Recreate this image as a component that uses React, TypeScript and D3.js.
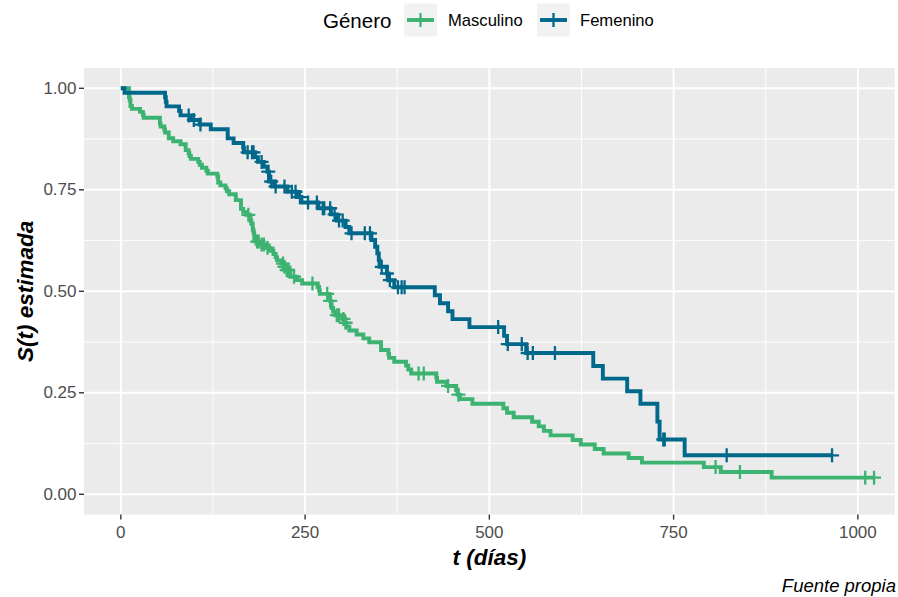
import React from "react";
import * as d3 from "d3";

// ---- Data ----
const maleTimes = [0, 11, 12, 13, 15, 26, 30, 31, 53, 54, 59, 60, 65, 71, 81, 88, 92, 93, 95, 105, 107, 110, 116, 118, 131, 132, 135, 142, 144, 147, 156, 163, 166, 170, 175, 176, 177, 179, 180, 181, 183, 189, 197, 202, 207, 210, 212, 218, 222, 223, 229, 230, 239, 246, 267, 269, 270, 283, 284, 285, 286, 288, 291, 301, 303, 306, 310, 320, 329, 337, 353, 363, 364, 371, 387, 390, 394, 428, 429, 442, 455, 457, 460, 477, 519, 524, 533, 558, 567, 574, 583, 613, 624, 643, 655, 689, 707, 791, 814, 883, 1022];
const maleSurv = [1, .9783, .9710, .9565, .9493, .9420, .9348, .9275, .9130, .9058, .8986, .8913, .8768, .8696, .8623, .8478, .8406, .8333, .8261, .8188, .8116, .8043, .7971, .7899, .7826, .7681, .7609, .7536, .7464, .7391, .7246, .7029, .6957, .6884, .6811, .6738, .6664, .6518, .6445, .6298, .6225, .6150, .6073, .5995, .5917, .5839, .5762, .5684, .5605, .5525, .5442, .5360, .5276, .5192, .5107, .5022, .4937, .4850, .4764, .4676, .4588, .4500, .4411, .4319, .4225, .4129, .4033, .3937, .3841, .3745, .3553, .3457, .3361, .3265, .3169, .3073, .2977, .2874, .2771, .2669, .2562, .2455, .2344, .2232, .2121, .2009, .1897, .1786, .1674, .1562, .1451, .1339, .1228, .1116, .1004, .0893, .0781, .0670, .0550, .0410, .0410];
const maleCensored = [173, 185, 187, 191, 194, 199, 220, 222, 225, 227, 235, 260, 280, 284, 293, 296, 302, 305, 404, 411, 444, 458, 807, 840, 1010, 1022];

const femaleTimes = [0, 5, 60, 61, 62, 79, 81, 95, 107, 122, 145, 153, 166, 167, 182, 186, 194, 199, 201, 208, 226, 239, 245, 268, 285, 293, 305, 310, 340, 345, 348, 350, 351, 361, 363, 371, 426, 433, 444, 450, 473, 520, 524, 550, 641, 654, 687, 705, 728, 731, 765, 965];
const femaleSurv = [1, .9889, .9778, .9667, .9556, .9444, .9333, .9221, .9107, .8993, .8766, .8652, .8538, .8424, .8305, .8187, .8066, .7946, .7705, .7581, .7452, .7322, .7186, .7045, .6895, .6742, .6585, .6428, .6264, .6099, .5934, .5769, .5604, .5439, .5274, .5098, .4902, .4706, .4510, .4314, .4118, .3901, .3700, .3480, .3160, .2850, .2540, .2230, .1790, .1350, .0960, .0960];
const femaleCensored = [92, 99, 108, 172, 178, 180, 191, 200, 204, 210, 222, 232, 237, 243, 254, 266, 274, 276, 284, 290, 296, 301, 313, 331, 338, 354, 361, 365, 376, 381, 385, 512, 525, 544, 552, 559, 589, 736, 738, 822, 965];

const groupNames = ["Masculino", "Femenino"];
const groupColors = ["#3CB371", "#00688B"];
const xTicks = [0, 250, 500, 750, 1000];
const xMinor = [125, 375, 625, 875];
const yTicks = [0, 0.25, 0.5, 0.75, 1];
const yMinor = [0.125, 0.375, 0.625, 0.875];

const W = 898;
const H = 597;
const PL = 84, PR = 894.7, PT = 68, PB = 514.6;

function stepValue(times: number[], surv: number[], t: number) {
  const i = d3.bisectRight(times, t) - 1;
  return surv[Math.max(0, i)];
}

export default function App() {
  const x = d3.scaleLinear().domain([-50, 1050]).range([PL, PR]);
  const y = d3.scaleLinear().domain([-0.05, 1.05]).range([PB, PT]);
  const line = d3
    .line<[number, number]>()
    .x((d) => x(d[0]))
    .y((d) => y(d[1]))
    .curve(d3.curveStepAfter);

  const groups = [
    { times: maleTimes, surv: maleSurv, cens: maleCensored },
    { times: femaleTimes, surv: femaleSurv, cens: femaleCensored },
  ];

  const plus = "M-7,0H7M0,-7V7";
  const font = "'Liberation Sans', Arial, Helvetica, sans-serif";

  return (
    <svg width={W} height={H} style={{ position: "absolute", left: 0, top: 0, background: "#fff" }} fontFamily={font}>
      <rect x={0} y={0} width={W} height={H} fill="#fff" />
      {/* panel */}
      <rect x={PL} y={PT} width={PR - PL} height={PB - PT} fill="#EBEBEB" />
      {xMinor.map((t) => (
        <line key={"xm" + t} x1={x(t)} x2={x(t)} y1={PT} y2={PB} stroke="#fff" strokeWidth={0.9} />
      ))}
      {yMinor.map((t) => (
        <line key={"ym" + t} x1={PL} x2={PR} y1={y(t)} y2={y(t)} stroke="#fff" strokeWidth={0.9} />
      ))}
      {xTicks.map((t) => (
        <line key={"xM" + t} x1={x(t)} x2={x(t)} y1={PT} y2={PB} stroke="#fff" strokeWidth={1.9} />
      ))}
      {yTicks.map((t) => (
        <line key={"yM" + t} x1={PL} x2={PR} y1={y(t)} y2={y(t)} stroke="#fff" strokeWidth={1.9} />
      ))}

      {/* curves */}
      {groups.map((g, gi) => (
        <path
          key={"c" + gi}
          d={line(g.times.map((t, i) => [t, g.surv[i]] as [number, number])) || ""}
          fill="none"
          stroke={groupColors[gi]}
          strokeWidth={3.9}
          strokeLinejoin="miter"
        />
      ))}
      {groups.map((g, gi) => (
        <g key={"m" + gi}>
          {g.cens.map((t, i) => (
            <path
              key={i}
              d={plus}
              transform={`translate(${x(t)},${y(stepValue(g.times, g.surv, t))})`}
              stroke={groupColors[gi]}
              strokeWidth={2.3}
              fill="none"
            />
          ))}
        </g>
      ))}

      {/* axes ticks */}
      {yTicks.map((t) => (
        <g key={"yt" + t}>
          <line x1={PL - 5} x2={PL} y1={y(t)} y2={y(t)} stroke="#333333" strokeWidth={1.4} />
          <text x={PL - 7.5} y={y(t)} textAnchor="end" dominantBaseline="central" fontSize={17} fill="#4D4D4D">
            {d3.format(".2f")(t)}
          </text>
        </g>
      ))}
      {xTicks.map((t) => (
        <g key={"xt" + t}>
          <line x1={x(t)} x2={x(t)} y1={PB} y2={PB + 5} stroke="#333333" strokeWidth={1.4} />
          <text x={x(t)} y={PB + 18} textAnchor="middle" dominantBaseline="central" fontSize={17} fill="#4D4D4D">
            {t}
          </text>
        </g>
      ))}

      {/* axis titles */}
      <text x={(PL + PR) / 2} y={557} textAnchor="middle" dominantBaseline="central" fontSize={22.5} fontWeight="bold" fontStyle="italic" fill="#000">
        t (días)
      </text>
      <text
        transform={`translate(25,${(PT + PB) / 2}) rotate(-90)`}
        textAnchor="middle"
        dominantBaseline="central"
        fontSize={22.5}
        fontWeight="bold"
        fontStyle="italic"
        fill="#000"
      >
        S(t) estimada
      </text>
      <text x={896} y={585} textAnchor="end" dominantBaseline="central" fontSize={18.5} fontStyle="italic" fill="#000">
        Fuente propia
      </text>

      {/* legend */}
      <text x={323} y={20} dominantBaseline="central" fontSize={20.5} fill="#000">
        Género
      </text>
      {groupNames.map((nm, i) => {
        const kx = [404, 537][i];
        const tx = [448, 580][i];
        return (
          <g key={"lg" + i}>
            <rect x={kx} y={3.5} width={33} height={33} fill="#F2F2F2" />
            <line x1={kx + 3} x2={kx + 30} y1={20} y2={20} stroke={groupColors[i]} strokeWidth={3.9} />
            <path d={plus} transform={`translate(${kx + 16.5},20)`} stroke={groupColors[i]} strokeWidth={2.3} fill="none" />
            <text x={tx} y={20} dominantBaseline="central" fontSize={16.6} fill="#000">
              {nm}
            </text>
          </g>
        );
      })}
    </svg>
  );
}
